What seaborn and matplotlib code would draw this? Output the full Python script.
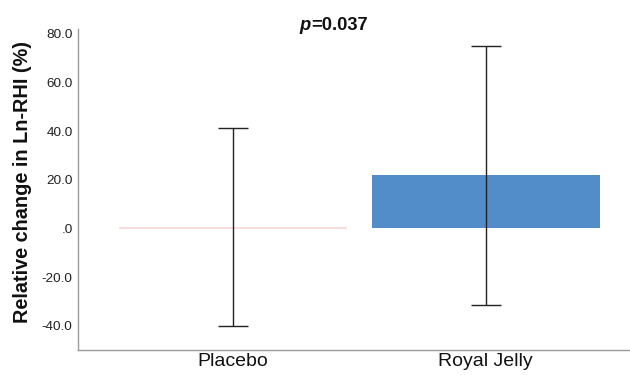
import matplotlib
matplotlib.use("Agg")
import matplotlib.pyplot as plt
import seaborn as sns
import pandas as pd

groups = ["Placebo", "Royal Jelly"]
means = [0.4, 21.8]
err_low = [40.6, 53.1]
err_high = [40.9, 53.1]
bar_colors = ["#f8dadc", "#528dca"]

sns.set_theme(style="white")
plt.rcParams["font.family"] = ["Liberation Sans", "DejaVu Sans"]

df = pd.DataFrame({"group": groups, "mean": means})

fig = plt.figure(figsize=(6.3, 3.75), dpi=100)
ax = fig.add_axes([0.124, 0.0667, 0.876, 0.856])

sns.barplot(data=df, x="group", y="mean", hue="group", palette=bar_colors,
            width=0.9, errorbar=None, legend=False, ax=ax, linewidth=0,
            saturation=1)
for i, p in enumerate(ax.patches):
    if i == 0:
        p.set_edgecolor(bar_colors[0])
        p.set_linewidth(0.6)

ax.errorbar(x=list(range(len(groups))), y=means, yerr=[err_low, err_high],
            fmt="none", ecolor="#222222", elinewidth=1.0, capsize=10.5, capthick=1.0)

ax.set_ylim(-50, 82)
ax.set_xlim(-0.61, 1.57)
ax.set_yticks([-40, -20, 0, 20, 40, 60, 80])
ax.set_yticklabels(["-40.0", "-20.0", ".0", "20.0", "40.0", "60.0", "80.0"])
ax.tick_params(axis="y", labelsize=9.7, length=0, pad=4, labelcolor="#222222")
ax.tick_params(axis="x", labelsize=14, length=0, pad=2, labelcolor="#111111")
ax.set_xlabel("")
ax.set_ylabel("Relative change in Ln-RHI (%)", fontsize=14.3, fontweight="bold",
              color="#111111")
ax.yaxis.set_label_coords(-0.083, 0.523)

ty = 1 - 30 / 375
fig.text(311 / 630, ty, "p", fontsize=13.2, fontweight="bold", fontstyle="italic",
         ha="right", va="baseline", color="#111111")
fig.text(311 / 630, ty, "=0.037", fontsize=13.2, fontweight="bold",
         ha="left", va="baseline", color="#111111")

for s in ["top", "right"]:
    ax.spines[s].set_visible(False)
for s in ["left", "bottom"]:
    ax.spines[s].set_color("#9a9a9a")
    ax.spines[s].set_linewidth(1.0)

fig.savefig("out.png", dpi=100)
